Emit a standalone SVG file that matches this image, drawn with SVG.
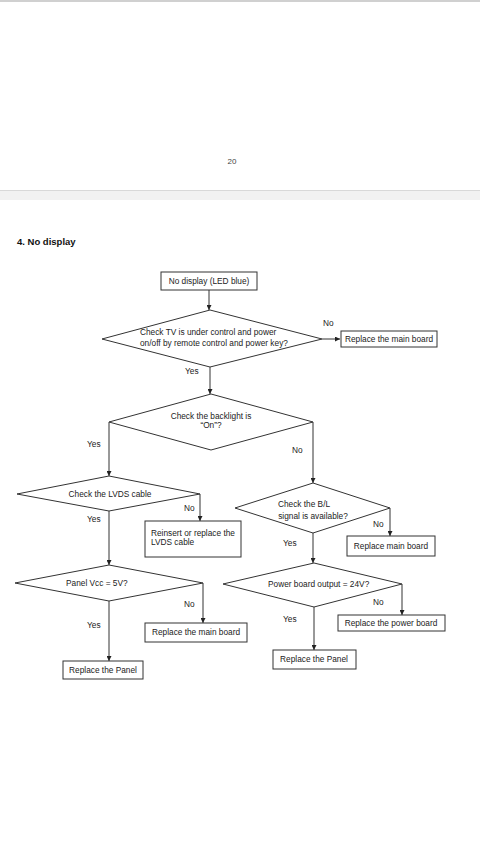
<svg xmlns="http://www.w3.org/2000/svg" width="480" height="854" viewBox="0 0 480 854">
<style>
.t{font-family:"Liberation Sans",Arial,sans-serif;font-size:8.3px;fill:#222}
.c{text-anchor:middle}
.s{fill:#fff;stroke:#333;stroke-width:1}
.l{fill:none;stroke:#333;stroke-width:1}
</style>
<defs>
<marker id="ah" viewBox="0 0 6 6" refX="6" refY="3" markerWidth="5" markerHeight="5" orient="auto" markerUnits="userSpaceOnUse">
<path d="M0,0 L6,3 L0,6 z" fill="#222"/>
</marker>
</defs>
<rect x="0" y="0" width="480" height="854" fill="#fff"/>
<rect x="0" y="0" width="480" height="2" fill="#d0d0d0"/>
<text x="232" y="164" class="t c" style="font-size:8px;fill:#444">20</text>
<rect x="0" y="190" width="480" height="10" fill="#f1f1f1"/>
<rect x="0" y="190" width="480" height="1" fill="#d8d8d8"/>
<text x="17" y="245" class="t" style="font-size:9.5px;font-weight:bold;fill:#111">4. No display</text>

<g id="connectors">
<line x1="209" y1="290" x2="209" y2="310" class="l" marker-end="url(#ah)"/>
<line x1="322" y1="339" x2="340" y2="339" class="l" marker-end="url(#ah)"/>
<line x1="210" y1="367" x2="210" y2="394" class="l" marker-end="url(#ah)"/>
<polyline points="109,422 109,476" class="l" marker-end="url(#ah)"/>
<polyline points="313,422 313,483" class="l" marker-end="url(#ah)"/>
<line x1="200" y1="494" x2="200" y2="521" class="l" marker-end="url(#ah)"/>
<line x1="109" y1="511" x2="109" y2="565" class="l" marker-end="url(#ah)"/>
<line x1="390" y1="508" x2="390" y2="536" class="l" marker-end="url(#ah)"/>
<line x1="313" y1="533" x2="313" y2="563" class="l" marker-end="url(#ah)"/>
<line x1="203" y1="583" x2="203" y2="623" class="l" marker-end="url(#ah)"/>
<line x1="109" y1="601" x2="109" y2="661" class="l" marker-end="url(#ah)"/>
<line x1="402" y1="584" x2="402" y2="615" class="l" marker-end="url(#ah)"/>
<line x1="314" y1="607" x2="314" y2="650" class="l" marker-end="url(#ah)"/>
<text x="323" y="326" class="t">No</text>
<text x="185" y="374" class="t">Yes</text>
<text x="87" y="447" class="t">Yes</text>
<text x="292" y="453" class="t">No</text>
<text x="184" y="511" class="t">No</text>
<text x="87" y="522" class="t">Yes</text>
<text x="373" y="527" class="t">No</text>
<text x="283" y="546" class="t">Yes</text>
<text x="184" y="607" class="t">No</text>
<text x="87" y="628" class="t">Yes</text>
<text x="373" y="605" class="t">No</text>
<text x="283" y="622" class="t">Yes</text>
</g>

<g id="start">
<rect x="161" y="272" width="96" height="18" class="s"/>
<text x="209" y="284" class="t c">No display (LED blue)</text>
</g>
<g id="d-control">
<polygon points="210,310 322,339 210,367 102,339" class="s"/>
<text x="140" y="335" class="t">Check TV is under control and power</text>
<text x="140" y="346" class="t">on/off by remote control and power key?</text>
</g>
<g id="r-main1">
<rect x="341" y="331" width="96" height="16" class="s"/>
<text x="389" y="342" class="t c">Replace the main board</text>
</g>
<g id="d-backlight">
<polygon points="211,394 313,422 211,450 109,422" class="s"/>
<text x="211" y="419" class="t c">Check the backlight is</text>
<text x="211" y="428" class="t c">“On”?</text>
</g>
<g id="d-lvds">
<polygon points="109,476 200,494 109,511 17,494" class="s"/>
<text x="110" y="497" class="t c">Check the LVDS cable</text>
</g>
<g id="r-reinsert">
<rect x="145" y="521" width="96" height="36" class="s"/>
<text x="151" y="536" class="t">Reinsert or replace the</text>
<text x="151" y="545" class="t">LVDS cable</text>
</g>
<g id="d-bl">
<polygon points="313,483 390,508 313,533 235,508" class="s"/>
<text x="304" y="507" class="t c">Check the B/L</text>
<text x="313" y="519" class="t c">signal is available?</text>
</g>
<g id="r-main2">
<rect x="347" y="536" width="88" height="20" class="s"/>
<text x="391" y="549" class="t c">Replace main board</text>
</g>
<g id="d-vcc">
<polygon points="109,565 203,583 109,601 15,583" class="s"/>
<text x="66" y="586" class="t">Panel Vcc = 5V?</text>
</g>
<g id="r-main3">
<rect x="145" y="623" width="102" height="19" class="s"/>
<text x="196" y="635" class="t c">Replace the main board</text>
</g>
<g id="r-panel1">
<rect x="63" y="661" width="80" height="18" class="s"/>
<text x="103" y="673" class="t c">Replace the Panel</text>
</g>
<g id="d-power">
<polygon points="314,563 402,584 314,607 223,584" class="s"/>
<text x="268" y="587" class="t">Power board output = 24V?</text>
</g>
<g id="r-power">
<rect x="338" y="615" width="107" height="16" class="s"/>
<text x="391" y="626" class="t c">Replace the power board</text>
</g>
<g id="r-panel2">
<rect x="273" y="650" width="83" height="19" class="s"/>
<text x="314" y="662" class="t c">Replace the Panel</text>
</g>
</svg>
